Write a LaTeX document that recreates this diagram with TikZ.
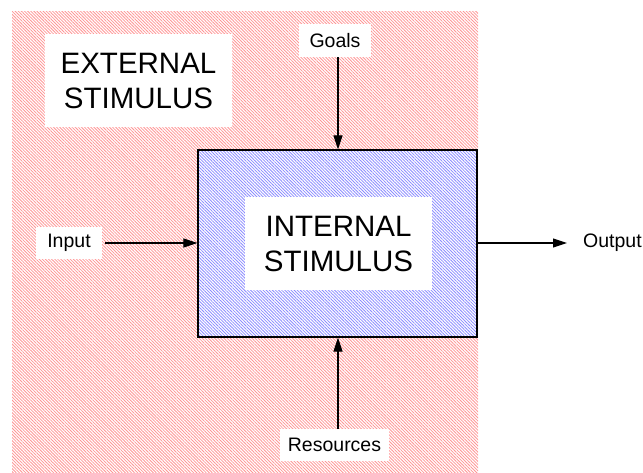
\documentclass[tikz,border=0pt]{standalone}
\usepackage{fontspec}
\setmainfont{Liberation Sans}
\usetikzlibrary{arrows.meta,patterns.meta}
\begin{document}
\begin{tikzpicture}[x=1pt,y=-1pt,
  lbl/.style={fill=white,inner sep=0pt,font=\fontsize{19.5}{22}\selectfont},
  biglbl/.style={fill=white,inner sep=0pt,minimum width=187pt,minimum height=93pt,align=center,font=\fontsize{29.5}{35}\selectfont},
  arr/.style={-{Triangle[length=14pt,width=9pt]},line width=1.1pt}]
\useasboundingbox (0,0) rectangle (643,472);
\fill[white] (0,0) rectangle (643,472);
\path[pattern={Lines[angle=-45,distance=2.2pt,line width=0.8pt]},pattern color={rgb,255:red,255;green,150;blue,150}] (12,11) rectangle (478,472);
\fill[white] (198,150) rectangle (477,337);
\path[pattern={Lines[angle=-45,distance=2.2pt,line width=0.8pt]},pattern color={rgb,255:red,140;green,140;blue,255}] (198,150) rectangle (477,337);
\node[draw=black,line width=1.3pt,minimum width=279pt,minimum height=187pt,inner sep=0pt] (inner) at (337.5,243.5) {};
\node[biglbl] (ext) at (138.5,80.5) {EXTERNAL\\STIMULUS};
\node[biglbl] (int) at (338.5,243.5) {INTERNAL\\STIMULUS};
\node[lbl,minimum width=72pt,minimum height=33pt] (goals) at (335,40.5) {Goals};
\node[lbl,minimum width=66pt,minimum height=32pt] (input) at (69,243) {Input};
\node[lbl,minimum width=109pt,minimum height=32pt] (res) at (334.5,445) {Resources};
\node[lbl,anchor=west,inner sep=0pt] (out) at (583,243) {Output};
\coordinate (ax) at (338,0);
\coordinate (outend) at (567,243);
\draw[arr] (goals.south -| ax) -- (inner.north -| ax);
\draw[arr] (res.north -| ax) -- (inner.south -| ax);
\draw[arr] ([xshift=3pt]input.east) -- (inner.west |- input.east);
\draw[arr] (inner.east |- outend) -- (outend);
\end{tikzpicture}
\end{document}
